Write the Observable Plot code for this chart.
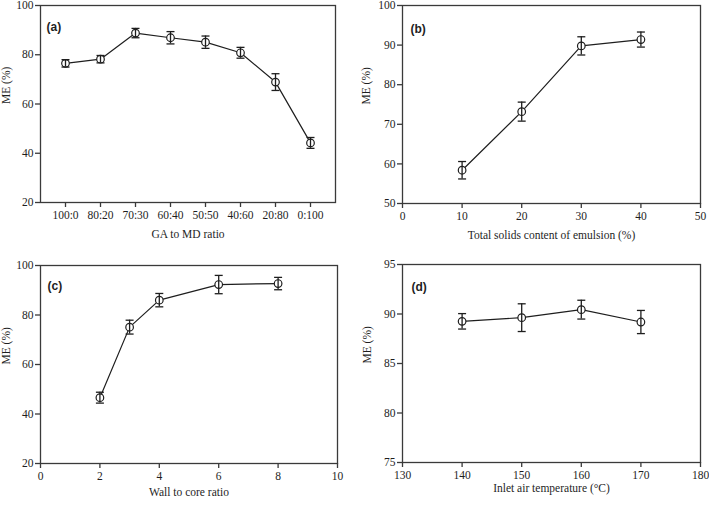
<!DOCTYPE html>
<html>
<head>
<meta charset="utf-8">
<script src="https://cdn.jsdelivr.net/npm/d3@7"></script>
<script src="https://cdn.jsdelivr.net/npm/@observablehq/plot@0.6"></script>
<style>
  html, body { margin: 0; padding: 0; background: #fff; }
  #chart { position: relative; width: 709px; height: 505px; overflow: hidden; }
  #chart > svg { position: absolute; }
</style>
</head>
<body>
<div id="chart"></div>
<script>
// ---- Data ----
const gaCats = ["100:0", "80:20", "70:30", "60:40", "50:50", "40:60", "20:80", "0:100"];
const gaME   = [76.5, 78.2, 88.8, 86.9, 85.1, 80.8, 68.9, 44.2];
const gaErr  = [1.5, 1.5, 1.9, 2.5, 2.5, 2.2, 3.4, 2.2];

const solids    = [10, 20, 30, 40];
const solidsME  = [58.4, 73.2, 89.8, 91.4];
const solidsErr = [2.2, 2.4, 2.3, 1.9];

const wallCore    = [2, 3, 4, 6, 8];
const wallCoreME  = [46.6, 75.1, 86.0, 92.3, 92.7];
const wallCoreErr = [2.2, 2.8, 2.7, 3.7, 2.5];

const inletT    = [140, 150, 160, 170];
const inletME   = [89.26, 89.63, 90.44, 89.19];
const inletErr  = [0.78, 1.4, 0.95, 1.17];

const yTicksA = [20, 40, 60, 80, 100];
const xTicksB = [0, 10, 20, 30, 40, 50];
const yTicksB = [50, 60, 70, 80, 90, 100];
const xTicksC = [0, 2, 4, 6, 8, 10];
const yTicksC = [20, 40, 60, 80, 100];
const xTicksD = [130, 140, 150, 160, 170, 180];
const yTicksD = [75, 80, 85, 90, 95];

// ---- Helpers ----
const axisColor = "#3a3a3a";
const ink = "#1e1e1e";
const capSymbol = {
  draw(context) {
    context.moveTo(-4, 0);
    context.lineTo(4, 0);
  }
};

function rows(xs, ys, es) {
  return xs.map((x, i) => ({x, y: ys[i], lo: ys[i] - es[i], hi: ys[i] + es[i]}));
}

function panel({data, x, y, xTicks, yTicks, xLabel, tag, width, height, margins, left, top, tagDx, tagDy, xLabDy, yLabDx}) {
  const svg = Plot.plot({
    width, height,
    marginLeft: margins[0], marginTop: margins[1], marginRight: margins[2], marginBottom: margins[3],
    x, y,
    style: {fontFamily: "'Liberation Serif', 'Times New Roman', serif", fontSize: "11px", color: ink, background: "transparent"},
    marks: [
      Plot.frame({stroke: axisColor, strokeWidth: 1.3}),
      Plot.axisX({ticks: xTicks, tickSize: 5, tickPadding: 3, stroke: axisColor, strokeWidth: 1.3, fill: ink, fontSize: 11.5, label: null}),
      Plot.axisY({ticks: yTicks, tickSize: 5, tickPadding: 2, stroke: axisColor, strokeWidth: 1.3, fill: ink, fontSize: 11.5, label: null}),
      Plot.line(data, {x: "x", y: "y", stroke: ink, strokeWidth: 1.2}),
      Plot.dot(data, {x: "x", y: "y", r: 3.8, stroke: "none", fill: "white"}),
      Plot.ruleX(data, {x: "x", y1: "lo", y2: "hi", stroke: ink, strokeWidth: 1.3}),
      Plot.dot(data, {x: "x", y: "lo", symbol: capSymbol, r: 4, stroke: ink, strokeWidth: 1.3, fill: "none"}),
      Plot.dot(data, {x: "x", y: "hi", symbol: capSymbol, r: 4, stroke: ink, strokeWidth: 1.3, fill: "none"}),
      Plot.dot(data, {x: "x", y: "y", r: 3.8, stroke: ink, strokeWidth: 1.2, fill: "none"}),
      Plot.text([xLabel], {text: d => d, frameAnchor: "bottom", dy: xLabDy, fill: ink, fontSize: 11.5}),
      Plot.text(["ME (%)"], {text: d => d, frameAnchor: "left", dx: yLabDx, rotate: -90, fill: ink, fontSize: 11.5}),
      Plot.text([tag], {text: d => d, frameAnchor: "top-left", textAnchor: "start", dx: tagDx, dy: tagDy, fill: ink,
        fontSize: 12, fontWeight: "bold", fontFamily: "'Liberation Sans', Arial, sans-serif"})
    ]
  });
  svg.style.left = left + "px";
  svg.style.top = top + "px";
  document.getElementById("chart").appendChild(svg);
}

panel({
  data: rows(gaCats, gaME, gaErr),
  x: {type: "point", domain: gaCats, padding: 0.65},
  y: {domain: [20, 100]},
  xTicks: gaCats, yTicks: yTicksA,
  xLabel: "GA to MD ratio", tag: "(a)",
  width: 354, height: 252, margins: [40, 5, 19, 50], left: 0, top: 0,
  tagDx: 6, tagDy: 17, xLabDy: 35, yLabDx: -34
});

panel({
  data: rows(solids, solidsME, solidsErr),
  x: {domain: [0, 50]},
  y: {domain: [50, 100]},
  xTicks: xTicksB, yTicks: yTicksB,
  xLabel: "Total solids content of emulsion (%)", tag: "(b)",
  width: 355, height: 252, margins: [48, 5, 9, 49], left: 354, top: 0,
  tagDx: 8, tagDy: 19, xLabDy: 35, yLabDx: -36
});

panel({
  data: rows(wallCore, wallCoreME, wallCoreErr),
  x: {domain: [0, 10]},
  y: {domain: [20, 100]},
  xTicks: xTicksC, yTicks: yTicksC,
  xLabel: "Wall to core ratio", tag: "(c)",
  width: 354, height: 253, margins: [40, 13, 17, 42], left: 0, top: 252,
  tagDx: 7, tagDy: 16, xLabDy: 32, yLabDx: -34
});

panel({
  data: rows(inletT, inletME, inletErr),
  x: {domain: [130, 180]},
  y: {domain: [75, 95]},
  xTicks: xTicksD, yTicks: yTicksD,
  xLabel: "Inlet air temperature (°C)", tag: "(d)",
  width: 355, height: 253, margins: [48, 12, 9, 43], left: 354, top: 252,
  tagDx: 9, tagDy: 18, xLabDy: 29, yLabDx: -35
});
</script>
</body>
</html>
